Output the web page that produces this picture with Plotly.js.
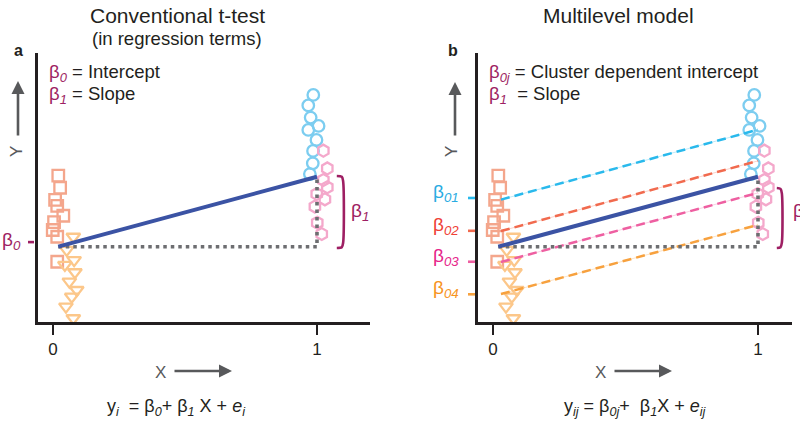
<!DOCTYPE html>
<html>
<head>
<meta charset="utf-8">
<script src="https://cdn.plot.ly/plotly-3.0.1.min.js"></script>
<style>html,body{margin:0;padding:0;background:#fff;}#chart{width:800px;height:429px;}</style>
</head>
<body>
<div id="chart"></div>
<script>
// ---- data (arbitrary Y units 0-10, X = group 0/1) ----
const xTickVals = [0, 1];
const xTickText = ['0', '1'];

// cluster at X = 0
const squareX = [0.020, 0.027, 0.008, 0.016, 0.039, 0.004, -0.001, 0.016, 0.016];
const squareY = [5.44, 4.99, 4.54, 4.32, 3.95, 3.71, 3.42, 3.17, 2.24];
const triangleX = [0.077, 0.052, 0.080, 0.045, 0.083, 0.062, 0.090, 0.071, 0.049, 0.077];
const triangleY = [3.17, 2.68, 2.30, 2.12, 1.85, 1.50, 1.19, 0.94, 0.57, 0.14];
// cluster at X = 1
const circleX = [0.986, 0.967, 0.976, 1.006, 0.967, 0.998, 0.985, 0.984, 0.973];
const circleY = [8.44, 8.05, 7.60, 7.29, 7.14, 6.77, 6.36, 5.90, 5.50];
const hexagonX = [1.024, 1.039, 1.024, 1.039, 0.999, 1.030, 0.992, 1.001, 1.018];
const hexagonY = [6.37, 5.71, 5.28, 5.01, 4.76, 4.56, 4.29, 3.69, 3.27];

// fitted regression line (beta0 at X~0, beta0+beta1 at X=1)
const fitX = [0.02, 1.0];
const fitY = [2.8, 5.4];
const beta0Tick = [2.97];

// multilevel: cluster-dependent intercept lines
const clusterX = [0.03, 1.0];
const cluster1Y = [4.55, 7.15];
const cluster2Y = [3.38, 5.99];
const cluster3Y = [2.23, 4.80];
const cluster4Y = [1.04, 3.61];
const clusterTickY = [4.61, 3.39, 2.24, 1.03];
const clusterLabels = ['β<sub><i>01</i></sub>', 'β<sub><i>02</i></sub>', 'β<sub><i>03</i></sub>', 'β<sub><i>04</i></sub>'];

// ---- styles ----
const FONT = 'Liberation Sans, Arial, sans-serif';
const TXT = '#231f20';
const GREY = '#58595b';
const PURPLE = '#9e1f63';
const cSquare = '#f4a68c', cTri = '#fcc78a', cCirc = '#7ccdf0', cHex = '#f4a8cb';
const cFit = '#3b53a4', cDot = '#6d6e71';
const clusterColors = ['#29b9ec', '#f16a4e', '#ee5fa1', '#f7a13e'];
const clusterTextColors = ['#29abe2', '#ef4136', '#e6258a', '#f7941d'];

const traces = [];
function clusters(xa, ya) {
  traces.push({x: squareX, y: squareY, xaxis: xa, yaxis: ya, type: 'scatter', mode: 'markers', hoverinfo: 'skip',
    marker: {symbol: 'square-open', size: 11.5, color: cSquare, line: {width: 2.3, color: cSquare}}});
  traces.push({x: triangleX, y: triangleY, xaxis: xa, yaxis: ya, type: 'scatter', mode: 'markers', hoverinfo: 'skip',
    marker: {symbol: 'triangle-down-open', size: 12, color: cTri, line: {width: 2.3, color: cTri}}});
  traces.push({x: circleX, y: circleY, xaxis: xa, yaxis: ya, type: 'scatter', mode: 'markers', hoverinfo: 'skip',
    marker: {symbol: 'circle-open', size: 11.5, color: cCirc, line: {width: 2.3, color: cCirc}}});
  traces.push({x: hexagonX, y: hexagonY, xaxis: xa, yaxis: ya, type: 'scatter', mode: 'markers', hoverinfo: 'skip',
    marker: {symbol: 'hexagon-open', size: 12, color: cHex, line: {width: 2.3, color: cHex}}});
}
clusters('x', 'y');
clusters('x2', 'y2');

// right panel dashed cluster lines
[cluster1Y, cluster2Y, cluster3Y, cluster4Y].forEach((cy, i) => {
  traces.push({x: clusterX, y: cy, xaxis: 'x2', yaxis: 'y2', type: 'scatter', mode: 'lines', hoverinfo: 'skip',
    line: {color: clusterColors[i], width: 1, dash: 'solid'}, opacity: 0.3});
  traces.push({x: clusterX, y: cy, xaxis: 'x2', yaxis: 'y2', type: 'scatter', mode: 'lines', hoverinfo: 'skip',
    line: {color: clusterColors[i], width: 2.5, dash: '9px,5px'}});
});

function fit(xa, ya, bracketTop, bx) {
  traces.push({x: [fitX[0], fitX[1], fitX[1]], y: [fitY[0], fitY[0], fitY[1]], xaxis: xa, yaxis: ya,
    type: 'scatter', mode: 'lines', hoverinfo: 'skip', line: {color: cDot, width: 3.6, dash: '3.5px,4px'}});
  traces.push({x: fitX, y: fitY, xaxis: xa, yaxis: ya, type: 'scatter', mode: 'lines', hoverinfo: 'skip',
    line: {color: cFit, width: 4}});
  // slope bracket
  traces.push({x: [bx[0], bx[1], bx[2], bx[2], bx[1], bx[0]],
    y: [bracketTop, bracketTop - 0.03, bracketTop - 0.2, fitY[0] - 0.05 + 0.2, fitY[0] - 0.02, fitY[0] - 0.05],
    xaxis: xa, yaxis: ya, type: 'scatter', mode: 'lines', hoverinfo: 'skip', cliponaxis: false,
    line: {color: PURPLE, width: 2.6, shape: 'spline', smoothing: 0.8}});
}
fit('x', 'y', 5.43, [1.075, 1.094, 1.099]);
fit('x2', 'y2', 4.98, [1.071, 1.085, 1.090]);

const axisX = (dom, rng) => ({domain: dom, range: rng, showline: true, linecolor: TXT, linewidth: 2.6,
  ticks: 'outside', ticklen: 10, tickwidth: 2.4, tickcolor: TXT, tickvals: xTickVals, ticktext: xTickText,
  tickfont: {family: FONT, size: 17, color: TXT}, showgrid: false, zeroline: false, fixedrange: true});
const axisY = (anchor) => ({domain: [1 - 322 / 429, 1 - 53 / 429], range: [0, 10], anchor: anchor, showline: true,
  linecolor: TXT, linewidth: 2.6, ticks: '', showticklabels: false, showgrid: false, zeroline: false, fixedrange: true});

const P = (px) => px / 800;
const Q = (py) => 1 - py / 429;
const ann = [];
function txt(text, x, y, size, opts) {
  ann.push(Object.assign({text: text, xref: 'paper', yref: 'paper', x: P(x), y: Q(y), showarrow: false,
    xanchor: 'center', yanchor: 'middle', font: {family: FONT, size: size, color: TXT}}, opts || {}));
}
txt('Conventional t-test', 177, 15, 21);
txt('(in regression terms)', 177, 38, 18.5);
txt('Multilevel model', 618, 15, 21);
txt('<b>a</b>', 18, 50, 16);
txt('<b>b</b>', 453, 50, 16);
const pb = (s) => '<span style="color:' + PURPLE + '">' + s + '</span>';
txt(pb('β<sub><i>0</i></sub>') + ' = Intercept', 47, 73, 18.5, {xanchor: 'left'});
txt(pb('β<sub><i>1</i></sub>') + ' = Slope', 47, 95, 18.5, {xanchor: 'left'});
txt(pb('β<sub><i>0j</i></sub>') + ' = Cluster dependent intercept', 487, 73, 18.5, {xanchor: 'left'});
txt(pb('β<sub><i>1</i></sub>') + '  = Slope', 487, 95, 18.5, {xanchor: 'left'});
txt('Y', 16, 152, 17, {textangle: -90, font: {family: FONT, size: 17, color: GREY}});
txt('Y', 451, 152, 17, {textangle: -90, font: {family: FONT, size: 17, color: GREY}});
txt('X', 160, 372, 17, {font: {family: FONT, size: 17, color: GREY}});
txt('X', 600, 372, 17, {font: {family: FONT, size: 17, color: GREY}});
txt('y<sub><i>i</i></sub>  = β<sub><i>0</i></sub>+ β<sub><i>1</i></sub> X + <i>e<sub>i</sub></i>', 176, 407, 18);
txt('y<sub><i>ij</i></sub> = β<sub><i>0j</i></sub>+  β<sub><i>1</i></sub>X + <i>e<sub>ij</sub></i>', 635, 407, 18);

// arrows
function arrow(x, y, ax, ay) {
  ann.push({xref: 'paper', yref: 'paper', x: P(x), y: Q(y), ax: ax, ay: ay, text: '', showarrow: true,
    arrowhead: 2, arrowsize: 1, arrowwidth: 2.6, arrowcolor: GREY, standoff: 0});
}
arrow(18, 81, 0, 56);
arrow(455, 82, 0, 55);
arrow(232, 371, -59, 0);
arrow(672, 371, -59, 0);

// intercept tick marks (y from data) and labels
const shapes = [];
shapes.push({type: 'line', xref: 'paper', yref: 'y', x0: P(28), x1: P(34), y0: beta0Tick[0], y1: beta0Tick[0],
  line: {color: PURPLE, width: 2.6}});
ann.push({xref: 'paper', yref: 'y', x: P(23), y: beta0Tick[0], yshift: 1, xanchor: 'right', yanchor: 'middle', showarrow: false,
  text: 'β<sub><i>0</i></sub>', font: {family: FONT, size: 19, color: PURPLE}});
clusterTickY.forEach((v, i) => {
  shapes.push({type: 'line', xref: 'paper', yref: 'y2', x0: P(468), x1: P(475), y0: v, y1: v,
    line: {color: clusterColors[i], width: 2.6}});
  ann.push({xref: 'paper', yref: 'y2', x: P(461), y: v, yshift: 5, xanchor: 'right', yanchor: 'middle', showarrow: false,
    text: clusterLabels[i], font: {family: FONT, size: 19, color: clusterTextColors[i]}});
});
// slope labels
ann.push({xref: 'x', yref: 'y', x: 1.12, y: 4.1, xanchor: 'left', yanchor: 'middle', showarrow: false,
  text: 'β<sub><i>1</i></sub>', font: {family: FONT, size: 19, color: PURPLE}});
ann.push({xref: 'paper', yref: 'y2', x: P(791), y: 4.1, xanchor: 'left', yanchor: 'middle', showarrow: false,
  text: 'β<sub><i>1</i></sub>', font: {family: FONT, size: 19, color: PURPLE}});

const layout = {
  width: 800, height: 429, margin: {l: 0, r: 0, t: 0, b: 0}, showlegend: false,
  paper_bgcolor: '#ffffff', plot_bgcolor: 'rgba(0,0,0,0)',
  font: {family: FONT, color: TXT},
  xaxis: Object.assign(axisX([38 / 800, 370 / 800], [-15 / 264, 317 / 264]), {anchor: 'y'}),
  yaxis: axisY('x'),
  xaxis2: Object.assign(axisX([478 / 800, 792 / 800], [-15 / 265, 299 / 265]), {anchor: 'y2'}),
  yaxis2: axisY('x2'),
  annotations: ann,
  shapes: shapes
};
Plotly.newPlot('chart', traces, layout, {displayModeBar: false, staticPlot: true});
</script>
</body>
</html>
